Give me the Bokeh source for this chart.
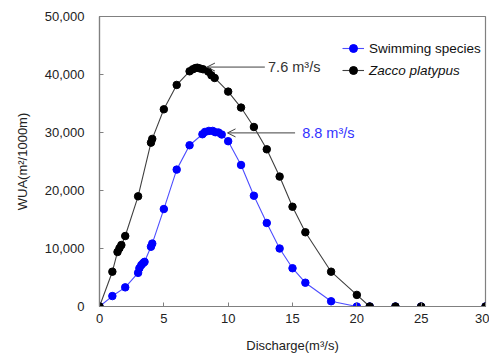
from bokeh.plotting import figure
from bokeh.models import (Legend, LegendItem, Arrow, OpenHead, Label,
                          NumeralTickFormatter, FixedTicker, Range1d)
from bokeh.embed import file_html
from bokeh.resources import INLINE

# ---- data ----
swim_q = [0, 1, 2, 3, 3.1, 3.25, 3.4, 3.5, 4.0, 4.1, 5, 6, 7, 8, 8.2, 8.5, 8.8,
          9.0, 9.25, 9.5, 10, 11, 12, 13, 14, 15, 16, 18, 20, 21, 23, 25, 30]
swim_wua = [0, 1800, 3300, 5800, 6600, 7150, 7500, 7700, 10300, 10850, 16800,
            23600, 27800, 29700, 30100, 30270, 30270, 30050, 30000, 29650,
            28500, 24400, 19100, 14400, 10000, 6600, 4100, 900, 0, 0, 0, 0, 0]

zacco_q = [0, 1, 1.4, 1.55, 1.7, 2, 3, 4.0, 4.1, 5, 6, 7, 7.25, 7.45, 7.6,
           7.8, 8.05, 8.45, 8.7, 8.95, 10, 11, 12, 13, 14, 15, 16, 18, 20,
           21, 23, 25, 30]
zacco_wua = [0, 6000, 9400, 10050, 10600, 12150, 19000, 28250, 28900, 34000,
             38200, 40550, 40900, 41100, 41170, 41050, 40900, 40500, 39850,
             39400, 37050, 34300, 30950, 27100, 22400, 17200, 12800, 6000,
             2000, 0, 0, 0, 0]

x_ticks = [0, 5, 10, 15, 20, 25, 30]
y_ticks = [0, 10000, 20000, 30000, 40000, 50000]

FONT = "Liberation Sans"

p = figure(width=489, height=355, output_backend="svg", toolbar_location=None,
           x_range=Range1d(0, 30), y_range=Range1d(0, 50000),
           min_border_left=99, min_border_right=4, min_border_top=16,
           min_border_bottom=48)
p.xgrid.visible = False
p.ygrid.visible = False
p.outline_line_color = "#808080"
p.outline_line_width = 1.2
p.background_fill_color = "white"
p.border_fill_color = "white"

for ax in (p.xaxis[0], p.yaxis[0]):
    ax.major_tick_in = 4
    ax.major_tick_out = 0
    ax.minor_tick_in = 0
    ax.minor_tick_out = 0
    ax.axis_line_color = "#808080"
    ax.axis_line_width = 1.2
    ax.major_tick_line_color = "#808080"
    ax.major_label_text_font = FONT
    ax.major_label_text_font_size = "13px"
    ax.major_label_text_color = "#222222"
    ax.axis_label_text_font = FONT
    ax.axis_label_text_font_size = "13px"
    ax.axis_label_text_font_style = "normal"
    ax.axis_label_text_color = "#222222"

p.xaxis.ticker = FixedTicker(ticks=x_ticks)
p.yaxis.ticker = FixedTicker(ticks=y_ticks)
p.yaxis.formatter = NumeralTickFormatter(format="0,0")
p.xaxis.axis_label = "Discharge(m³/s)"
p.yaxis.axis_label = "WUA(m²/1000m)"
p.xaxis.major_label_standoff = 7
p.xaxis.axis_label_standoff = 12
p.yaxis.major_label_standoff = 15
p.yaxis.axis_label_standoff = 12

# series
bl = p.line(swim_q, swim_wua, line_color="#4d4dff", line_width=1.1)
bs = p.scatter(swim_q, swim_wua, size=7.5, fill_color="#0000ff",
               line_color="#0000ff")
kl = p.line(zacco_q, zacco_wua, line_color="#404040", line_width=1.1)
ks = p.scatter(zacco_q, zacco_wua, size=7.5, fill_color="black",
               line_color="black")

# annotations
p.add_layout(Arrow(end=OpenHead(size=8, line_color="#404040", line_width=1),
                   x_start=12.85, y_start=41280, x_end=8.35, y_end=41280,
                   line_color="#404040", line_width=1))
p.add_layout(Label(x=13.1, y=41280, text="7.6 m³/s", text_font=FONT,
                   text_font_size="14.5px", text_color="#333333",
                   text_baseline="middle"))
p.add_layout(Arrow(end=OpenHead(size=8, line_color="#404040", line_width=1),
                   x_start=15.2, y_start=29930, x_end=9.95, y_end=29930,
                   line_color="#404040", line_width=1))
p.add_layout(Label(x=15.75, y=29930, text="8.8 m³/s", text_font=FONT,
                   text_font_size="14.5px", text_color="#3333ff",
                   text_baseline="middle"))

# legends
def make_legend(label, renderers, style, loc):
    lg = Legend(items=[LegendItem(label=label, renderers=renderers)],
                location=loc, orientation="vertical",
                background_fill_alpha=0, border_line_alpha=0,
                padding=0, margin=0, spacing=0,
                glyph_width=22, glyph_height=20, label_height=20,
                label_standoff=5, label_text_font=FONT,
                label_text_font_size="13.5px", label_text_font_style=style,
                label_text_color="#111111")
    p.add_layout(lg, "center")

make_legend("Swimming species", [bl, bs], "normal", (243, 248))
make_legend("Zacco platypus", [kl, ks], "italic", (243, 226))

open("out.html", "w").write(file_html(p, INLINE))
